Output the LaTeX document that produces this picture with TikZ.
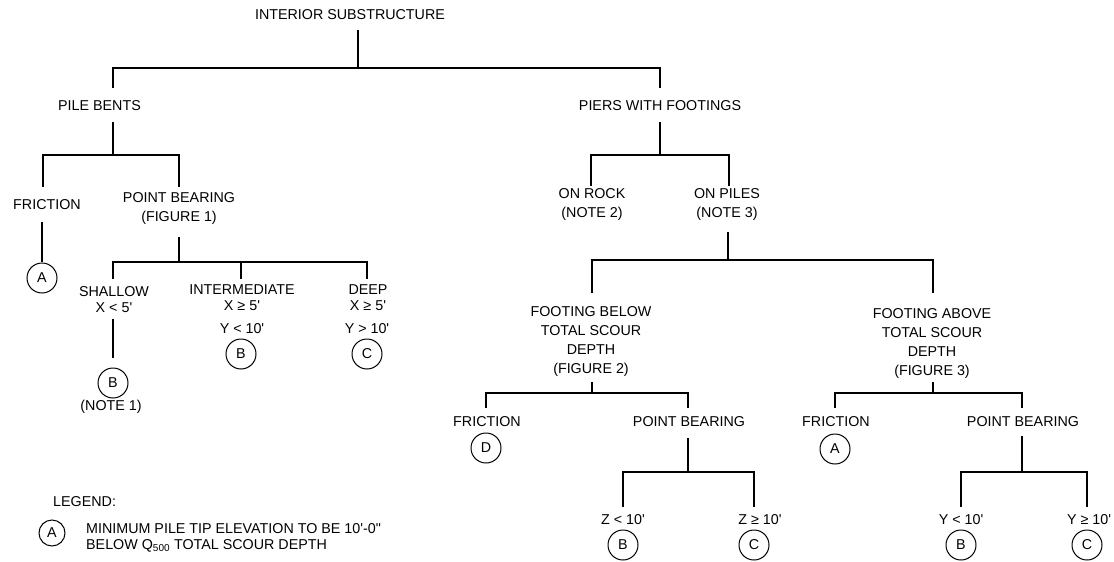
\documentclass[tikz,border=0pt]{standalone}
\usepackage{fontspec}
\setmainfont{Liberation Sans}
\newcommand{\ft}{\textquotesingle}
\begin{document}
\begin{tikzpicture}[x=1pt,y=-1pt,
  lbl/.style={inner sep=0pt, align=center, font=\fontsize{14.3}{19}\selectfont},
  lbltight/.style={lbl, font=\fontsize{14.3}{16}\selectfont},
  br/.style={line width=2.2pt, line cap=butt, line join=miter},
  circ/.style={circle, draw, line width=1pt, minimum size=30pt, inner sep=0pt, outer sep=1.5pt, font=\fontsize{14.3}{17}\selectfont},
  lcirc/.style={circ, minimum size=26pt, outer sep=0pt}]
\useasboundingbox (0,0) rectangle (1114,562);

% ---- nodes ----
\node[lbl] (root) at (350,15) {INTERIOR SUBSTRUCTURE};
\node[lbl] (pile) at (99.5,106) {PILE BENTS};
\node[lbl] (piers) at (660,106) {PIERS WITH FOOTINGS};

\node[lbl] (fr1) at (47,205) {FRICTION};
\node[circ] (cA1) at (42,278) {A};
\node[lbl] (pb1) at (179,208.5) {POINT BEARING\\(FIGURE 1)};
\node[lbltight] (sh) at (114,300) {SHALLOW\\X < 5\ft};
\node[circ] (cB1) at (113,383) {B};
\node[lbl] (note1) at (111,407) {(NOTE 1)};
\node[lbltight] (im) at (242,298) {INTERMEDIATE\\X ≥ 5\ft};
\node[lbl] (im2) at (242,329) {Y < 10\ft};
\node[circ] (cB2) at (241,354) {B};
\node[lbltight] (de) at (368,298) {DEEP\\X ≥ 5\ft};
\node[lbl] (de2) at (367,329) {Y > 10\ft};
\node[circ] (cC1) at (367,354) {C};

\node[lbl] (rock) at (592,204.5) {ON ROCK\\(NOTE 2)};
\node[lbl] (piles) at (727,204.5) {ON PILES\\(NOTE 3)};
\node[lbl] (fb) at (591,341.5) {FOOTING BELOW\\TOTAL SCOUR\\DEPTH\\(FIGURE 2)};
\node[lbl] (fa) at (932,343) {FOOTING ABOVE\\TOTAL SCOUR\\DEPTH\\(FIGURE 3)};

\node[lbl] (fr2) at (487,422) {FRICTION};
\node[circ] (cD) at (486,448) {D};
\node[lbl] (pb2) at (689,422) {POINT BEARING};
\node[lbl] (z1) at (623,520) {Z < 10\ft};
\node[circ] (cB3) at (623,545) {B};
\node[lbl] (z2) at (760,520) {Z ≥ 10\ft};
\node[circ] (cC2) at (754,545) {C};

\node[lbl] (fr3) at (836,422) {FRICTION};
\node[circ] (cA2) at (835,449) {A};
\node[lbl] (pb3) at (1023,422) {POINT BEARING};
\node[lbl] (y1) at (961,520) {Y < 10\ft};
\node[circ] (cB4) at (961,545) {B};
\node[lbl] (y2) at (1089,520) {Y ≥ 10\ft};
\node[circ] (cC3) at (1087,545) {C};

% legend
\node[lbl, anchor=west] (leg) at (53,502) {LEGEND:};
\node[lcirc] (cL) at (52,533) {A};
\node[lbl, anchor=west, align=left, font=\fontsize{14.3}{16}\selectfont] (legtxt) at (86,538)
  {MINIMUM PILE TIP ELEVATION TO BE 10\ft-0\textquotedbl\\BELOW Q\textsubscript{500} TOTAL SCOUR DEPTH};

% ---- connector end points ----
\coordinate (root-s) at (358,30);   \coordinate (root-bar) at (358,68);
\coordinate (pile-n) at (113,88);   \coordinate (pile-s) at (113,122); \coordinate (pile-bar) at (113,155);
\coordinate (piers-n) at (660,88);  \coordinate (piers-s) at (660,122); \coordinate (piers-bar) at (660,155);
\coordinate (fr1-n) at (43,187);    \coordinate (fr1-s) at (42,222);
\coordinate (pb1-n) at (179,187);   \coordinate (pb1-s) at (179,237); \coordinate (pb1-bar) at (179,262);
\coordinate (sh-n) at (113,279);    \coordinate (sh-s) at (113,319); \coordinate (sh-e) at (113,358);
\coordinate (im-n) at (241,279);
\coordinate (de-n) at (367,279);
\coordinate (rock-n) at (591,186);  \coordinate (piles-n) at (729,186);
\coordinate (piles-s) at (728,232); \coordinate (piles-bar) at (728,260);
\coordinate (fb-n) at (592,293);    \coordinate (fb-s) at (592,382); \coordinate (fb-bar) at (592,393);
\coordinate (fa-n) at (933,293);    \coordinate (fa-s) at (933,382); \coordinate (fa-bar) at (933,393);
\coordinate (fr2-n) at (486,408);   \coordinate (pb2-n) at (688,408);
\coordinate (pb2-s) at (688,438);   \coordinate (pb2-bar) at (688,472);
\coordinate (z1-n) at (623,507);    \coordinate (z2-n) at (754,507);
\coordinate (fr3-n) at (835,408);   \coordinate (pb3-n) at (1022,408);
\coordinate (pb3-s) at (1022,436);  \coordinate (pb3-bar) at (1022,472);
\coordinate (y1-n) at (961,507);    \coordinate (y2-n) at (1087,507);

% ---- connectors ----
\draw[br] (root-s) -- (root-bar);
\draw[br] (pile-n) |- (root-bar) -| (piers-n);

\draw[br] (pile-s) -- (pile-bar);
\draw[br] (fr1-n) |- (pile-bar) -| (pb1-n);
\draw[br] (fr1-s) -- (cA1.north);

\draw[br] (pb1-s) -- (pb1-bar);
\draw[br] (sh-n) |- (pb1-bar) -| (de-n);
\draw[br] (im-n) -- (im-n |- pb1-bar);
\draw[br] (sh-s) -- (sh-e);

\draw[br] (piers-s) -- (piers-bar);
\draw[br] (rock-n) |- (piers-bar) -| (piles-n);

\draw[br] (piles-s) -- (piles-bar);
\draw[br] (fb-n) |- (piles-bar) -| (fa-n);

\draw[br] (fb-s) -- (fb-bar);
\draw[br] (fr2-n) |- (fb-bar) -| (pb2-n);
\draw[br] (pb2-s) -- (pb2-bar);
\draw[br] (z1-n) |- (pb2-bar) -| (z2-n);

\draw[br] (fa-s) -- (fa-bar);
\draw[br] (fr3-n) |- (fa-bar) -| (pb3-n);
\draw[br] (pb3-s) -- (pb3-bar);
\draw[br] (y1-n) |- (pb3-bar) -| (y2-n);
\end{tikzpicture}
\end{document}
